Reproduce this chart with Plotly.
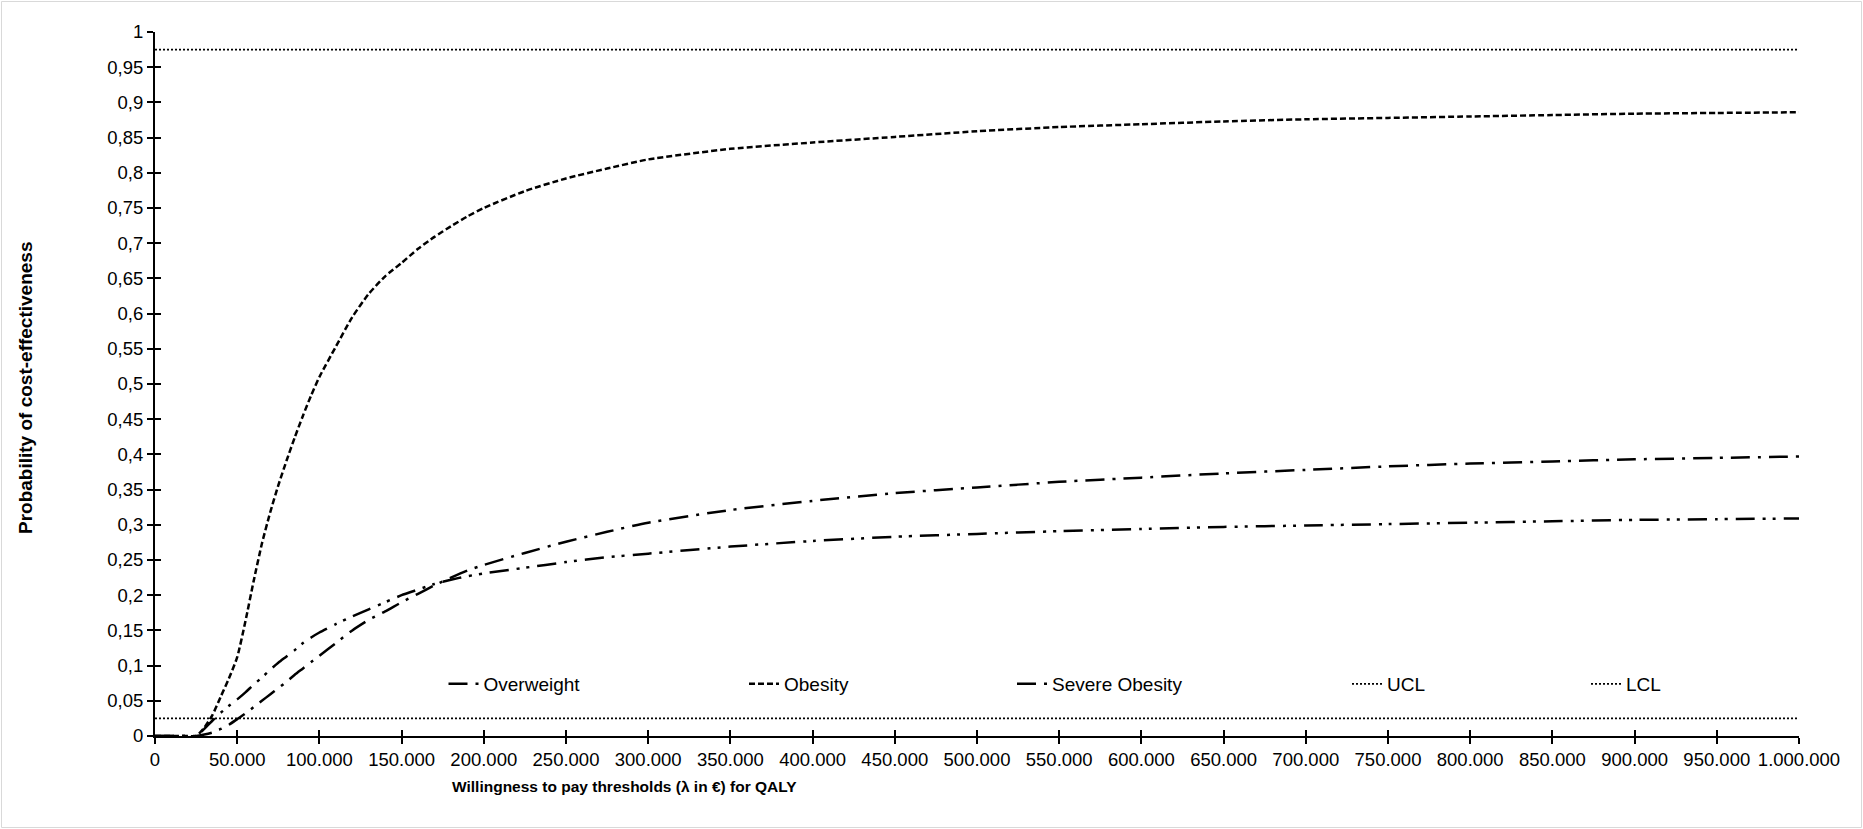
import plotly.graph_objects as go

# ---------------- data ----------------
wtp = [0, 10000, 20000, 25000, 30000, 35000, 40000, 45000, 50000, 55000, 60000,
       65000, 70000, 75000, 80000, 85000, 90000, 95000, 100000, 110000, 120000,
       130000, 140000, 150000, 160000, 170000, 180000, 190000, 200000, 225000,
       250000, 275000, 300000, 350000, 400000, 450000, 500000, 550000, 600000,
       650000, 700000, 750000, 800000, 850000, 900000, 950000, 1000000]

overweight = [0, 0, 0, 0.0, 0.01, 0.022, 0.033, 0.043, 0.052, 0.062, 0.073,
              0.083, 0.094, 0.104, 0.113, 0.122, 0.132, 0.14, 0.147, 0.159, 0.17,
              0.18, 0.19, 0.2, 0.208, 0.216, 0.222, 0.227, 0.231, 0.239,
              0.247, 0.254, 0.259, 0.269, 0.277, 0.283, 0.287, 0.291, 0.294,
              0.297, 0.299, 0.301, 0.303, 0.305, 0.307, 0.308, 0.309]

obesity = [0, 0, 0, 0.0, 0.012, 0.03, 0.056, 0.082, 0.112, 0.163, 0.22,
           0.273, 0.317, 0.356, 0.391, 0.424, 0.455, 0.484, 0.51, 0.553, 0.595,
           0.628, 0.653, 0.672, 0.692, 0.709, 0.724, 0.738, 0.75, 0.774,
           0.792, 0.806, 0.819, 0.834, 0.843, 0.851, 0.859, 0.865, 0.869,
           0.873, 0.876, 0.878, 0.88, 0.882, 0.884, 0.885, 0.886]

severe_obesity = [0, 0, 0, 0, 0.002, 0.005, 0.01, 0.016, 0.024, 0.032, 0.041,
                  0.05, 0.059, 0.068, 0.077, 0.087, 0.096, 0.105, 0.114, 0.132, 0.15,
                  0.165, 0.177, 0.19, 0.202, 0.214, 0.225, 0.235, 0.243, 0.26,
                  0.276, 0.29, 0.303, 0.321, 0.334, 0.345, 0.353, 0.361, 0.367,
                  0.373, 0.378, 0.383, 0.387, 0.39, 0.393, 0.395, 0.397]

limit_x = [0, 1000000]
ucl = [0.975, 0.975]
lcl = [0.025, 0.025]

x_tick_vals = [i * 50000 for i in range(21)]
x_tick_labels = ["0", "50.000", "100.000", "150.000", "200.000", "250.000", "300.000",
                 "350.000", "400.000", "450.000", "500.000", "550.000", "600.000",
                 "650.000", "700.000", "750.000", "800.000", "850.000", "900.000",
                 "950.000", "1.000.000"]
y_tick_vals = [i * 0.05 for i in range(21)]
y_tick_labels = ["0", "0,05", "0,1", "0,15", "0,2", "0,25", "0,3", "0,35", "0,4",
                 "0,45", "0,5", "0,55", "0,6", "0,65", "0,7", "0,75", "0,8", "0,85",
                 "0,9", "0,95", "1"]

x_title = "Willingness to pay thresholds (λ in €) for QALY"
y_title = "Probability of cost-effectiveness"

# ---------------- layout helpers ----------------
W, H = 1863, 829
PL, PR, PT, PB = 155, 1799, 32, 736
PW, PH = PR - PL, PB - PT


def px_x(px):
    return (px - PL) / PW


def px_y(py):
    return (PB - py) / PH


FONT = "Liberation Sans, Arial, sans-serif"
BLACK = "black"

fig = go.Figure()

series = [
    ("Overweight", overweight, "19px,8px,3px,7px,3px,8px", "legend"),
    ("Obesity", obesity, "6px,3px", "legend2"),
    ("Severe Obesity", severe_obesity, "19px,8px,3px,8px", "legend3"),
]
for name, vals, dash, leg in series:
    fig.add_trace(go.Scatter(
        x=wtp, y=vals, mode="lines", name=name, legend=leg, showlegend=True,
        line=dict(color=BLACK, width=2.5, dash=dash, shape="spline", smoothing=0.6),
        hoverinfo="skip"))

fig.add_trace(go.Scatter(
    x=limit_x, y=ucl, mode="lines", name="UCL", legend="legend4", showlegend=True,
    xaxis="x2", yaxis="y2",
    line=dict(color=BLACK, width=1.6, dash="2px,2px"), hoverinfo="skip"))
fig.add_trace(go.Scatter(
    x=limit_x, y=lcl, mode="lines", name="LCL", legend="legend5", showlegend=True,
    xaxis="x2", yaxis="y2",
    line=dict(color=BLACK, width=1.6, dash="2px,2px"), hoverinfo="skip"))

common_axis = dict(showgrid=False, zeroline=False, tickcolor=BLACK, tickwidth=1.5,
                   ticklen=6)

fig.update_layout(
    width=W, height=H,
    showlegend=True,
    margin=dict(l=PL, r=W - PR, t=PT, b=H - PB, pad=0),
    paper_bgcolor="white", plot_bgcolor="white",
    font=dict(family=FONT, color=BLACK, size=18),
    xaxis=dict(range=[0, 1000000], showline=True, linecolor=BLACK, linewidth=2,
               ticks="outside", tickmode="array", tickvals=x_tick_vals,
               ticktext=x_tick_labels, tickangle=0,
               tickfont=dict(family=FONT, size=18.5, color=BLACK), **common_axis),
    yaxis=dict(range=[0, 1], showline=True, linecolor=BLACK, linewidth=2,
               ticks="outside", tickmode="array", tickvals=y_tick_vals,
               ticktext=y_tick_labels,
               tickfont=dict(family=FONT, size=18.5, color=BLACK), **common_axis),
    xaxis2=dict(range=[0, 1000000], overlaying="x", anchor="y", side="bottom",
                ticks="inside", tickmode="array", tickvals=x_tick_vals,
                showticklabels=False, showline=False, **common_axis),
    yaxis2=dict(range=[0, 1], overlaying="y", anchor="x", side="left",
                ticks="inside", tickmode="array", tickvals=y_tick_vals,
                showticklabels=False, showline=False, **common_axis),
    shapes=[dict(type="rect", xref="paper", yref="paper",
                 x0=px_x(1.5), x1=px_x(W - 1.5), y0=px_y(H - 1.5), y1=px_y(1.5),
                 line=dict(color="#d9d9d9", width=1), fillcolor="rgba(0,0,0,0)",
                 layer="below")],
    annotations=[
        dict(text="<b>%s</b>" % x_title, xref="paper", yref="paper",
             x=px_x(624), y=px_y(786), xanchor="center", yanchor="middle",
             showarrow=False, font=dict(family=FONT, size=15.5, color=BLACK)),
        dict(text="<b>%s</b>" % y_title, xref="paper", yref="paper",
             x=px_x(26), y=px_y(388), xanchor="center", yanchor="middle",
             textangle=-90, showarrow=False,
             font=dict(family=FONT, size=19, color=BLACK)),
    ],
)

legend_text_starts = [487.5, 788, 1056, 1391, 1630]
legend_names = ["legend", "legend2", "legend3", "legend4", "legend5"]
for lname, tx in zip(legend_names, legend_text_starts):
    fig.update_layout({lname: dict(
        x=px_x(tx - 44), y=px_y(684), xanchor="left", yanchor="middle",
        orientation="h", bgcolor="rgba(0,0,0,0)", borderwidth=0, visible=True,
        font=dict(family=FONT, size=19, color=BLACK))})

fig.write_html("out.html", config={"displayModeBar": False})
